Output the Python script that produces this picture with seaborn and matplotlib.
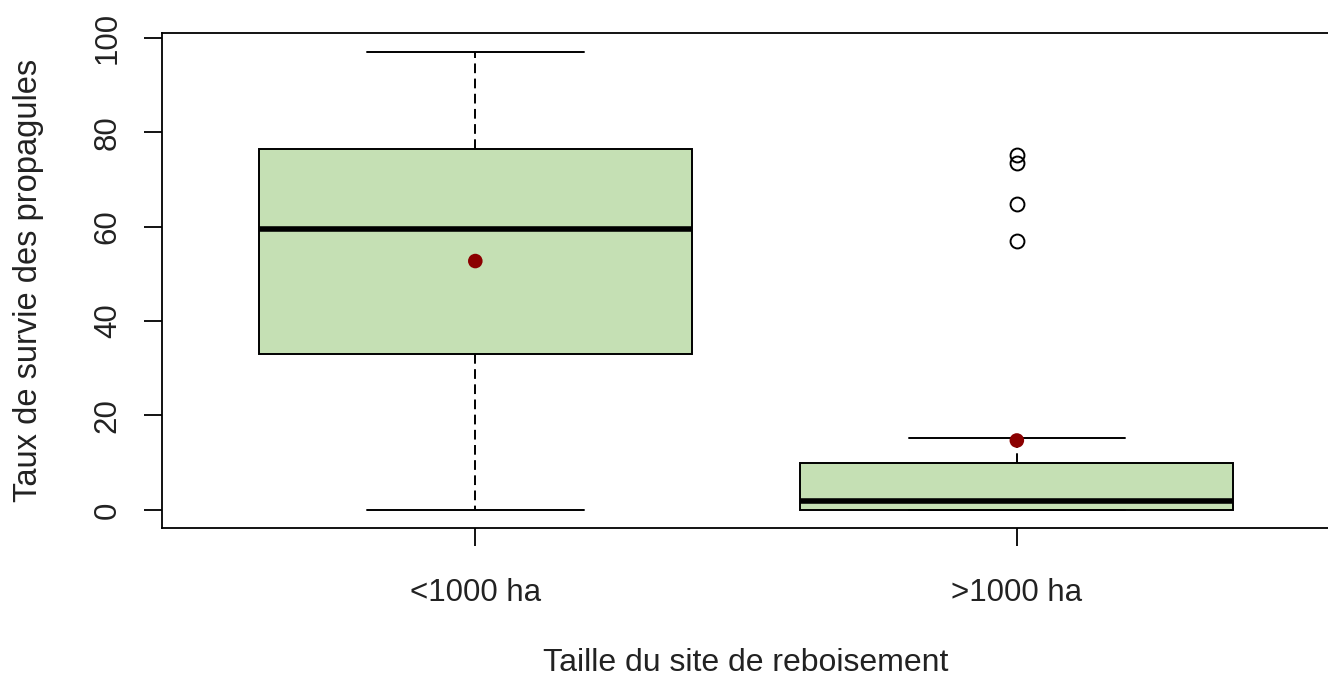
import matplotlib
matplotlib.use("Agg")
import matplotlib.pyplot as plt
import seaborn as sns

# box summaries
groups = ["<1000 ha", ">1000 ha"]
whisker_low = [0.0, 0.0]
q1 = [33.1, 0.0]
median = [59.4, 1.8]
q3 = [76.5, 10.0]
whisker_high = [96.9, 15.2]
means = [52.7, 14.7]
outliers = [[], [56.9, 64.7, 73.4, 75.1]]
yticks = [0, 20, 40, 60, 80, 100]

sns.set_theme(style="ticks")
plt.rcParams["font.family"] = ["Liberation Sans", "DejaVu Sans"]

fig = plt.figure(figsize=(13.28, 6.86), dpi=100)
ax = fig.add_axes([0.1218, 0.2299, 0.880, 0.7213])

stats = []
for i in range(len(groups)):
    stats.append(dict(label=groups[i], whislo=whisker_low[i], q1=q1[i], med=median[i],
                      q3=q3[i], whishi=whisker_high[i], fliers=outliers[i]))

lw = 1.4
ax.bxp(stats, positions=range(len(groups)), widths=0.8, capwidths=0.4,
       patch_artist=True,
       boxprops=dict(facecolor="#C5E0B4", edgecolor="black", linewidth=lw),
       medianprops=dict(color="black", linewidth=4),
       whiskerprops=dict(color="black", linestyle=(0, (5, 2.8)), linewidth=lw),
       capprops=dict(color="black", linewidth=lw),
       flierprops=dict(marker="o", markerfacecolor="none", markeredgecolor="black",
                       markersize=10, markeredgewidth=lw))

# means
sns.scatterplot(x=list(range(len(groups))), y=means, color="#8B0000", s=110,
                edgecolor="none", ax=ax, zorder=5)

ax.set_xlim(-0.579, 1.579)
ax.set_ylim(-3.9, 100.9)
ax.set_xticks(range(len(groups)))
ax.set_xticklabels(groups)
ax.set_yticks(yticks)
ax.set_yticklabels([str(t) for t in yticks], rotation=90, va="center")

for s in ax.spines.values():
    s.set_color("black")
    s.set_linewidth(1.3)
ax.tick_params(axis="both", direction="out", length=13, width=1.3, color="black",
               labelsize=22.5, labelcolor="#222222")
ax.tick_params(axis="x", pad=23)
ax.tick_params(axis="y", pad=15)

ax.set_xlabel("Taille du site de reboisement", fontsize=23, color="#222222")
ax.xaxis.set_label_coords(0.5, -0.272)
ax.xaxis.label.set_va("center")
ax.set_ylabel("Taux de survie des propagules", fontsize=23.5, color="#222222")
ax.yaxis.set_label_coords(-0.1144, 0.5)
ax.yaxis.label.set_va("center")

fig.savefig("out.png", dpi=100, facecolor="white")
